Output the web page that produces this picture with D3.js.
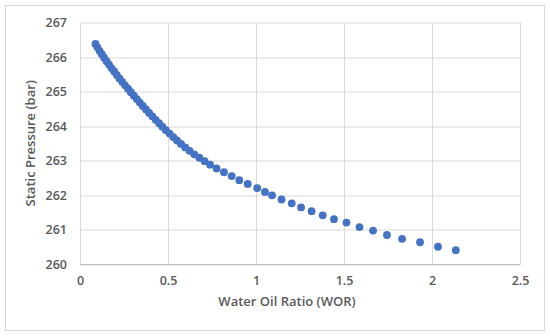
<!DOCTYPE html>
<html>
<head>
<meta charset="utf-8">
<script src="https://cdn.jsdelivr.net/npm/d3@7"></script>
<style>
  body { margin: 0; background: #fff; }
  .tick text { font-family: "Open Sans", sans-serif; font-weight: 600; font-size: 12.5px; fill: #595959; }
  .axis-title { font-family: "Open Sans", sans-serif; font-weight: 600; font-size: 13px; fill: #595959; }
</style>
</head>
<body>
<div id="chart"></div>
<script>
// Water Oil Ratio (x) vs Static Pressure (y)
var worValues = [0.088, 0.099, 0.111, 0.124, 0.137, 0.151, 0.165, 0.179, 0.194, 0.209,
  0.224, 0.240, 0.256, 0.273, 0.289, 0.306, 0.323, 0.340, 0.357, 0.375,
  0.393, 0.411, 0.430, 0.449, 0.468, 0.488, 0.509, 0.530, 0.551, 0.574,
  0.598, 0.623, 0.649, 0.678, 0.708, 0.739, 0.776, 0.818, 0.862, 0.905,
  0.953, 1.007, 1.051, 1.091, 1.145, 1.203, 1.256, 1.316, 1.379, 1.443,
  1.514, 1.588, 1.665, 1.744, 1.830, 1.932, 2.034, 2.135];
var pressureValues = [266.38, 266.28, 266.18, 266.08, 265.98, 265.88, 265.78, 265.68, 265.58, 265.48,
  265.38, 265.28, 265.18, 265.08, 264.98, 264.88, 264.78, 264.68, 264.58, 264.48,
  264.38, 264.28, 264.18, 264.08, 263.98, 263.88, 263.78, 263.68, 263.58, 263.48,
  263.38, 263.28, 263.18, 263.08, 262.98, 262.88, 262.77, 262.66, 262.55, 262.43,
  262.32, 262.20, 262.09, 261.99, 261.87, 261.76, 261.64, 261.53, 261.41, 261.30,
  261.20, 261.07, 260.97, 260.84, 260.73, 260.63, 260.50, 260.40];
var xTicks = [0, 0.5, 1, 1.5, 2, 2.5];
var yTicks = [260, 261, 262, 263, 264, 265, 266, 267];
var xTitle = "Water Oil Ratio (WOR)";
var yTitle = "Static Pressure (bar)";

var svgW = 550, svgH = 336;
var margin = { left: 80, top: 22.5, right: 30, bottom: 72 },
    width = svgW - margin.left - margin.right,
    height = svgH - margin.top - margin.bottom;

var root = d3.select("#chart").append("svg")
  .attr("width", svgW)
  .attr("height", svgH);

// chart area border
root.append("rect")
  .attr("x", 5.5).attr("y", 5.5)
  .attr("width", 539).attr("height", 325)
  .attr("fill", "#fff")
  .attr("stroke", "#d9d9d9")
  .attr("stroke-width", 1);

var svg = root.append("g")
  .attr("transform", "translate(" + margin.left + "," + margin.top + ")");

var x = d3.scaleLinear().domain([0, 2.5]).range([0, width]);
var y = d3.scaleLinear().domain([260, 267]).range([height, 0]);

// gridlines
svg.append("g")
  .selectAll("line.h")
  .data(yTicks)
  .enter().append("line")
  .attr("x1", 0).attr("x2", width)
  .attr("y1", function(d) { return Math.round(y(d)) + 0.5; })
  .attr("y2", function(d) { return Math.round(y(d)) + 0.5; })
  .attr("stroke", "#d9d9d9");

svg.append("g")
  .selectAll("line.v")
  .data(xTicks)
  .enter().append("line")
  .attr("y1", 0).attr("y2", height)
  .attr("x1", function(d) { return Math.round(x(d)) + 0.5; })
  .attr("x2", function(d) { return Math.round(x(d)) + 0.5; })
  .attr("stroke", "#d9d9d9");

// axes (labels only, Excel style)
var xAxis = d3.axisBottom(x).tickValues(xTicks).tickSize(0).tickPadding(12)
  .tickFormat(function(d) { return d3.format("")(d); });
var gX = svg.append("g")
  .attr("transform", "translate(0," + height + ")")
  .call(xAxis);
gX.select(".domain").attr("stroke", "#bfbfbf");

var yAxis = d3.axisLeft(y).tickValues(yTicks).tickSize(0).tickPadding(13)
  .tickFormat(d3.format("d"));
var gY = svg.append("g").call(yAxis);
gY.select(".domain").attr("stroke", "#d9d9d9");

// points
var points = worValues.map(function(d, i) { return { wor: d, p: pressureValues[i] }; });
svg.append("g")
  .selectAll("circle")
  .data(points)
  .enter().append("circle")
  .attr("cx", function(d) { return x(d.wor); })
  .attr("cy", function(d) { return y(d.p); })
  .attr("r", 3.9)
  .attr("fill", "#4472c4");

// axis titles
root.append("text")
  .attr("class", "axis-title")
  .attr("x", 287)
  .attr("y", 306)
  .attr("text-anchor", "middle")
  .text(xTitle);

root.append("text")
  .attr("class", "axis-title")
  .attr("transform", "translate(35," + (margin.top + height / 2) + ") rotate(-90)")
  .attr("text-anchor", "middle")
  .text(yTitle);
</script>
</body>
</html>
